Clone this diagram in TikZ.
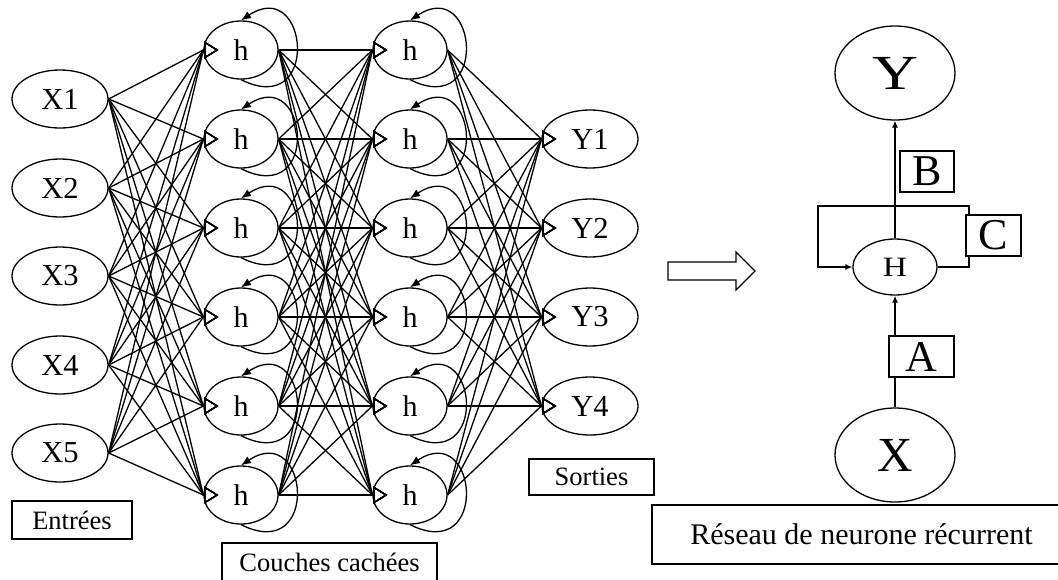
\documentclass[tikz,border=0pt]{standalone}
\usepackage{fontspec}
\usepackage{graphicx}
\setmainfont{Liberation Serif}
\usetikzlibrary{shapes.geometric,arrows.meta}
\newcommand\fsz[1]{\fontsize{#1pt}{#1pt}\selectfont}
\begin{document}
\begin{tikzpicture}[x=1pt,y=-1pt,line width=1.3pt,
  inpnode/.style={ellipse,draw,inner sep=0pt,minimum width=96pt,minimum height=58pt,font=\fsz{30.5}},
  hidnode/.style={ellipse,draw,inner sep=0pt,minimum width=74pt,minimum height=58pt,font=\fsz{30}},
  bignode/.style={ellipse,draw,inner sep=0pt,minimum width=120pt,minimum height=94pt,font=\fsz{49}},
  hnode/.style={ellipse,draw,inner sep=0pt,minimum width=84pt,minimum height=56pt,font=\fsz{28}},
  labelbox/.style={rectangle,draw,fill=white,inner sep=0pt,font=\fsz{26.5}},
  letterbox/.style={rectangle,draw,fill=white,inner sep=0pt,minimum height=41pt,font=\fsz{44}},
  link/.style={-{Triangle[open,length=14pt,width=17pt]}},
  selfloop/.style={-{Latex[length=10pt,width=8pt]}},
  rarrow/.style={-{Latex[length=7pt,width=6pt]}}]
\useasboundingbox (0,0) rectangle (1058,579);

% input layer
\foreach \i/\y in {1/99,2/188,3/276,4/365,5/453}
  \node[inpnode] (X\i) at (60,\y) {X\i};

% two hidden layers
\foreach \i in {1,...,6}{
  \pgfmathsetmacro\yy{50+89*(\i-1)}
  \node[hidnode] (A\i) at (241,\yy) {h};
  \node[hidnode] (B\i) at (410,\yy) {h};
  \coordinate (A\i-tip) at ([xshift=15pt]A\i.west);
  \coordinate (B\i-tip) at ([xshift=15pt]B\i.west);
}

% output layer
\foreach \i in {1,...,4}{
  \pgfmathsetmacro\yy{139+89*(\i-1)}
  \node[inpnode] (Y\i) at (590,\yy) {Y\i};
  \coordinate (Y\i-tip) at ([xshift=15pt]Y\i.west);
}

% fully connected links
\foreach \i in {1,...,5}
  \foreach \j in {1,...,6}
    \draw[link] (X\i.east) -- (A\j.west) -- (A\j-tip);
\foreach \i in {1,...,6}
  \foreach \j in {1,...,6}
    \draw[link] (A\i.east) -- (B\j.west) -- (B\j-tip);
\foreach \i in {1,...,6}
  \foreach \j in {1,...,4}
    \draw[link] (B\i.east) -- (Y\j.west) -- (Y\j-tip);

% recurrent self connections
\foreach \i in {1,...,6}{
  \draw[selfloop] (A\i.south) .. controls +(80,40) and +(68,-45) .. (A\i.north);
  \draw[selfloop] (B\i.south) .. controls +(80,40) and +(68,-45) .. (B\i.north);
}

% captions of the layers
\node[labelbox,minimum width=120pt,minimum height=38pt] (lin) at (72,520) {Entrées};
\node[labelbox,minimum width=215pt,minimum height=38pt] (lhid) at (329.5,562) {Couches cachées};
\node[labelbox,minimum width=125pt,minimum height=36pt] (lout) at (591.5,477) {Sorties};

% hollow arrow
\draw (668,262) -- (736,262) -- (736,252) -- (755,271) -- (736,290) -- (736,280) -- (668,280) -- cycle;

% compact recurrent cell
\node[bignode] (Yr) at (895,73) {\scalebox{1.3}[1]{Y}};
\node[hnode] (Hr) at (895,267) {\scalebox{1.2}[1]{H}};
\node[bignode] (Xr) at (895,455) {X};
\coordinate (lr) at (969,206);
\coordinate (ll) at (818,206);
\draw[rarrow] (Xr.north) -- (Hr.south);
\draw[rarrow] (Hr.north) -- (Yr.south);
\draw[rarrow] (Hr.east) -| (lr) -- (ll) |- (Hr.west);
\node[letterbox,minimum width=54pt] (wB) at (927,171.5) {B};
\node[letterbox,minimum width=55pt] (wC) at (993.5,235.5) {C};
\node[letterbox,minimum width=65pt] (wA) at (921.5,356.5) {A};

\node[labelbox,minimum width=419pt,minimum height=59pt,font=\fsz{30}] (lrnn) at (861.5,534.5) {Réseau de neurone récurrent};
\end{tikzpicture}
\end{document}
